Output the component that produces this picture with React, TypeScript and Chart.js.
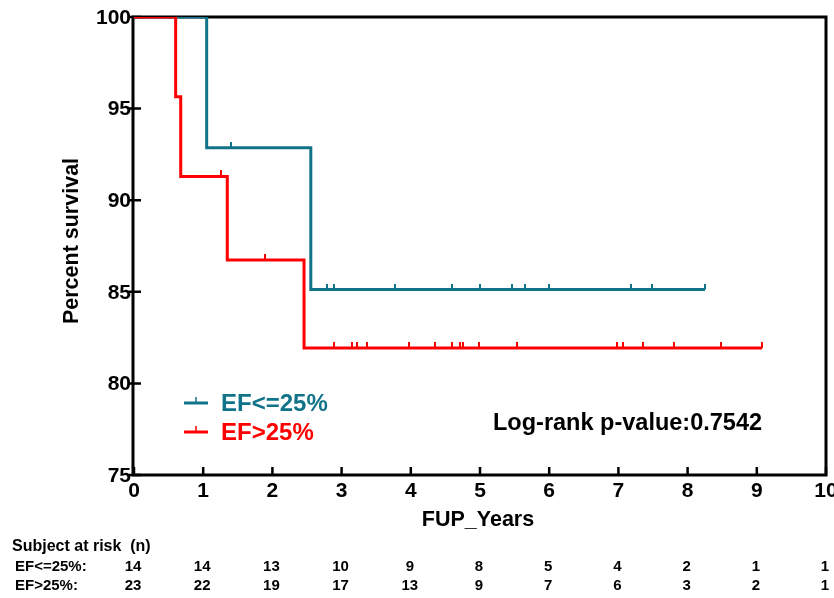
import React, { useEffect, useRef } from "react";
import { Chart, registerables } from "chart.js";

Chart.register(...registerables);

// ---------- data ----------
const groupNames = ["EF<=25%", "EF>25%"];
const xTicks = [0, 1, 2, 3, 4, 5, 6, 7, 8, 9, 10];
const yTicks = [75, 80, 85, 90, 95, 100];

// Kaplan-Meier step points (time in years, percent survival)
const lowTimes = [0, 1.05, 2.555, 8.25];
const lowSurv = [100, 92.86, 85.12, 85.12];
const lowCensor = [1.4, 2.785, 2.895, 3.776, 4.6, 5.0, 5.458, 5.65, 6.0, 7.18, 7.49, 8.25];

const highTimes = [0, 0.602, 0.675, 1.348, 2.457, 9.075];
const highSurv = [100, 95.65, 91.3, 86.74, 81.93, 81.93];
const highCensor = [1.25, 1.89, 2.89, 3.146, 3.218, 3.371, 3.97, 4.35, 4.59, 4.71, 4.75, 4.99, 5.535, 6.975, 7.066, 7.35, 7.8, 8.487, 9.075];

const riskLow = [14, 14, 13, 10, 9, 8, 5, 4, 2, 1, 1];
const riskHigh = [23, 22, 19, 17, 13, 9, 7, 6, 3, 2, 1];

const pValueText = "Log-rank p-value:0.7542";
const xTitle = "FUP_Years";
const yTitle = "Percent survival";
const riskTitle = "Subject at risk  (n)";

const TEAL = "#107389";
const RED = "#ff0000";
const FONT = '"Liberation Sans", Arial, Helvetica, sans-serif';

function survAt(times: number[], surv: number[], t: number): number {
  let s = surv[0];
  for (let i = 0; i < times.length; i++) {
    if (times[i] <= t) s = surv[i];
  }
  return s;
}

function kmPoints(times: number[], surv: number[]) {
  return times.map((t, i) => ({ x: t, y: surv[i] }));
}

function censorPoints(times: number[], surv: number[], cens: number[]) {
  return cens.map((t) => ({ x: t, y: survAt(times, surv, t) }));
}

function tickImage(color: string): HTMLCanvasElement {
  const c = document.createElement("canvas");
  c.width = 2;
  c.height = 12;
  const g = c.getContext("2d")!;
  g.fillStyle = color;
  g.fillRect(0, 0, 2, 6);
  return c;
}

const framePlugin = {
  id: "kmFrame",
  beforeDatasetsDraw(chart: any) {
    const { ctx, chartArea } = chart;
    const xs = chart.scales.x;
    const ys = chart.scales.y;
    const L = chartArea.left - 1;
    const R = chartArea.right;
    const T = chartArea.top;
    const B = chartArea.bottom;
    ctx.save();
    ctx.strokeStyle = "#000";
    ctx.lineWidth = 3;
    ctx.lineCap = "square";
    ctx.beginPath();
    ctx.moveTo(L, T);
    ctx.lineTo(R, T);
    ctx.lineTo(R, B);
    ctx.lineTo(L, B);
    ctx.closePath();
    ctx.stroke();
    ctx.lineCap = "butt";
    ctx.lineWidth = 2.5;
    ctx.beginPath();
    for (const v of yTicks) {
      const y = ys.getPixelForValue(v);
      ctx.moveTo(L - 4, y);
      ctx.lineTo(L + 8, y);
    }
    for (const v of xTicks) {
      const x = xs.getPixelForValue(v);
      ctx.moveTo(x, B);
      ctx.lineTo(x, B - 8);
    }
    ctx.stroke();

    // tick labels
    ctx.fillStyle = "#000";
    ctx.font = `bold 21px ${FONT}`;
    ctx.textAlign = "right";
    ctx.textBaseline = "middle";
    for (const v of yTicks) {
      const y = ys.getPixelForValue(v);
      ctx.fillText(String(v), L - 2, y + 1);
    }
    ctx.textAlign = "center";
    ctx.textBaseline = "top";
    ctx.font = `bold 21px ${FONT}`;
    for (const v of xTicks) {
      const x = xs.getPixelForValue(v);
      ctx.fillText(String(v), x, B + 6);
    }
    ctx.restore();
  },
  afterDraw(chart: any) {
    const { ctx } = chart;
    const xs = chart.scales.x;
    ctx.save();
    ctx.fillStyle = "#000";
    // axis titles
    ctx.font = `bold 21.5px ${FONT}`;
    ctx.textAlign = "center";
    ctx.textBaseline = "middle";
    ctx.fillText(xTitle, 478, 520);
    ctx.save();
    ctx.translate(72, 241);
    ctx.rotate(-Math.PI / 2);
    ctx.fillText(yTitle, 0, 0);
    ctx.restore();

    // p-value
    ctx.font = `bold 23.5px ${FONT}`;
    ctx.textAlign = "left";
    ctx.fillText(pValueText, 493, 424);

    // legend
    const legendItems = [
      { name: groupNames[0], color: TEAL, y: 403 },
      { name: groupNames[1], color: RED, y: 432 },
    ];
    for (const it of legendItems) {
      ctx.strokeStyle = it.color;
      ctx.lineWidth = 3;
      ctx.beginPath();
      ctx.moveTo(184, it.y);
      ctx.lineTo(208, it.y);
      ctx.stroke();
      ctx.lineWidth = 1.5;
      ctx.beginPath();
      ctx.moveTo(196, it.y);
      ctx.lineTo(196, it.y - 6);
      ctx.stroke();
      ctx.fillStyle = it.color;
      ctx.font = `bold 24px ${FONT}`;
      ctx.textAlign = "left";
      ctx.textBaseline = "middle";
      ctx.fillText(it.name, 221, it.y + 1);
    }

    // risk table
    ctx.fillStyle = "#000";
    ctx.font = `bold 16px ${FONT}`;
    ctx.textAlign = "left";
    ctx.textBaseline = "middle";
    ctx.fillText(riskTitle, 12, 547);
    ctx.font = `bold 15px ${FONT}`;
    ctx.fillText(groupNames[0] + ":", 15, 567);
    ctx.fillText(groupNames[1] + ":", 15, 586);
    ctx.textAlign = "center";
    xTicks.forEach((v, i) => {
      const x = xs.getPixelForValue(v) - 1;
      ctx.fillText(String(riskLow[i]), x, 567);
      ctx.fillText(String(riskHigh[i]), x, 586);
    });
    ctx.restore();
  },
};

export default function App() {
  const ref = useRef<HTMLCanvasElement | null>(null);
  useEffect(() => {
    if (!ref.current) return;
    const tealTick = tickImage(TEAL);
    const redTick = tickImage(RED);
    const chart = new Chart(ref.current, {
      type: "line",
      data: {
        datasets: [
          {
            label: groupNames[1],
            data: kmPoints(highTimes, highSurv),
            stepped: "before",
            borderColor: RED,
            backgroundColor: RED,
            borderWidth: 3,
            pointRadius: 0,
            fill: false,
            order: 0,
          } as any,
          {
            label: groupNames[1] + " censored",
            type: "scatter",
            data: censorPoints(highTimes, highSurv, highCensor),
            pointStyle: redTick,
            pointRadius: 6,
            showLine: false,
            order: 0,
          } as any,
          {
            label: groupNames[0],
            data: kmPoints(lowTimes, lowSurv),
            stepped: "before",
            borderColor: TEAL,
            backgroundColor: TEAL,
            borderWidth: 3,
            pointRadius: 0,
            fill: false,
            order: 1,
          } as any,
          {
            label: groupNames[0] + " censored",
            type: "scatter",
            data: censorPoints(lowTimes, lowSurv, lowCensor),
            pointStyle: tealTick,
            pointRadius: 6,
            showLine: false,
            order: 1,
          } as any,
        ],
      },
      options: {
        animation: false,
        responsive: false,
        maintainAspectRatio: false,
        layout: { padding: { left: 134, right: 8, top: 17, bottom: 123 } },
        scales: {
          x: { type: "linear", min: 0, max: 10, display: false },
          y: { type: "linear", min: 75, max: 100, display: false },
        },
        plugins: {
          legend: { display: false },
          tooltip: { enabled: false },
        },
      },
      plugins: [framePlugin],
    });
    return () => chart.destroy();
  }, []);
  return (
    <div style={{ position: "fixed", left: 0, top: 0, width: 834, height: 598, background: "#fff" }}>
      <canvas ref={ref} width={834} height={598} style={{ width: 834, height: 598, display: "block" }} />
    </div>
  );
}
